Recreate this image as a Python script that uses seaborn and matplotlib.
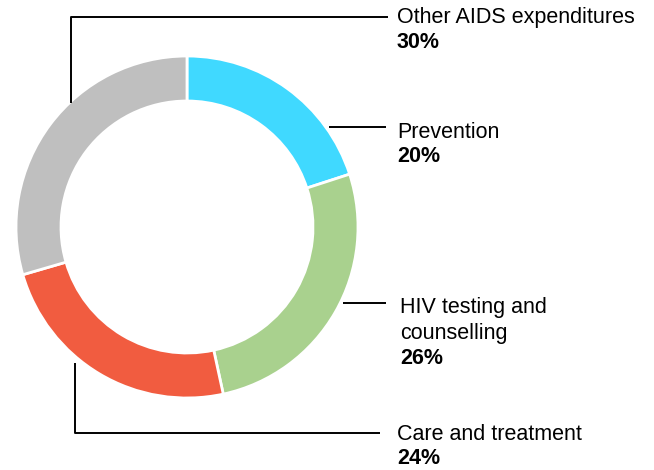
import matplotlib
matplotlib.use("Agg")
import matplotlib.pyplot as plt
import seaborn as sns

# Данные диаграммы (доли дуг измерены по картинке, подписи - как на исходнике)
categories = ["Prevention", "HIV testing and\ncounselling", "Care and treatment", "Other AIDS expenditures"]
arc_shares = [20.0, 26.6, 23.9, 29.5]
label_pct = ["20%", "26%", "24%", "30%"]
colors = ["#40D9FF", "#A9D18E", "#F15C40", "#BFBFBF"]

# Подписи: позиция текста и точки выноски (в пикселях, y сверху вниз)
label_xy = [(397, 132), (400, 308), (397, 434), (397, 17)]
leader_paths = [
    [(329, 127), (386, 127)],
    [(343, 303), (386, 303)],
    [(75, 363), (75, 433), (380, 433)],
    [(71, 103), (71, 17), (388, 17)],
]

W, H = 654, 470
sns.set_theme(style="white")
plt.rcParams["font.family"] = ["Liberation Sans", "DejaVu Sans"]

fig = plt.figure(figsize=(W / 100, H / 100), dpi=100)
ax = fig.add_axes([0, 0, 1, 1])

cx, cy, r_out, r_in = 187, 227, 171, 126
ax.pie(arc_shares, colors=sns.color_palette(colors), startangle=90, counterclock=False,
       center=(cx, H - cy), radius=r_out,
       wedgeprops=dict(width=r_out - r_in, edgecolor="white", linewidth=2))

for path in leader_paths:
    xs = [p[0] for p in path]
    ys = [H - p[1] for p in path]
    ax.plot(xs, ys, color="black", lw=1.4, solid_capstyle="butt")

fs = 15.5
for cat, pct, (tx, ty) in zip(categories, label_pct, label_xy):
    lines = cat.split("\n")
    for i, line in enumerate(lines):
        ax.text(tx, H - (ty + 25 * i), line, fontsize=fs, va="center", ha="left", color="black")
    ax.text(tx, H - (ty + 25 * len(lines)), pct, fontsize=fs, fontweight="bold",
            va="center", ha="left", color="black")

ax.set_xlim(0, W)
ax.set_ylim(0, H)
ax.set_aspect("equal")
ax.axis("off")
fig.savefig("out.png", dpi=100)
